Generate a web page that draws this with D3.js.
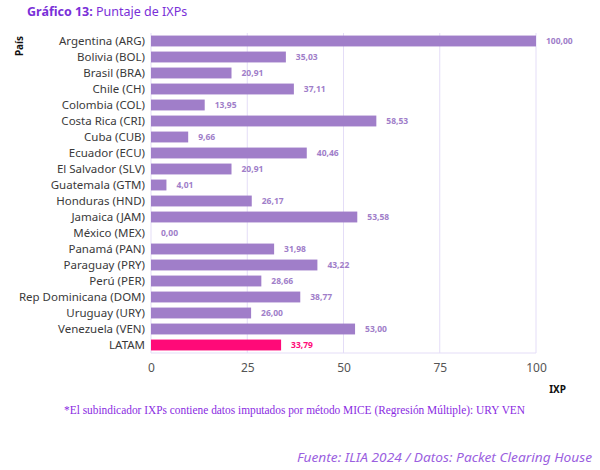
<!DOCTYPE html>
<html>
<head>
<meta charset="utf-8">
<script src="https://cdn.jsdelivr.net/npm/d3@7"></script>
<style>
  body { margin: 0; background: #fff; }
  svg { display: block; font-family: "Noto Sans", sans-serif; }
</style>
</head>
<body>
<div id="chart"></div>
<script>
// Chart data
const countries = [
  "Argentina (ARG)", "Bolivia (BOL)", "Brasil (BRA)", "Chile (CH)", "Colombia (COL)",
  "Costa Rica (CRI)", "Cuba (CUB)", "Ecuador (ECU)", "El Salvador (SLV)", "Guatemala (GTM)",
  "Honduras (HND)", "Jamaica (JAM)", "México (MEX)", "Panamá (PAN)", "Paraguay (PRY)",
  "Perú (PER)", "Rep Dominicana (DOM)", "Uruguay (URY)", "Venezuela (VEN)", "LATAM"
];
const scores = [
  100.00, 35.03, 20.91, 37.11, 13.95,
  58.53, 9.66, 40.46, 20.91, 4.01,
  26.17, 53.58, 0.00, 31.98, 43.22,
  28.66, 38.77, 26.00, 53.00, 33.79
];
const xTicks = [0, 25, 50, 75, 100];

const W = 600, H = 470;
const purple = "#a07ec9";
const pink = "#ff0a78";

const svg = d3.select("#chart").append("svg")
  .attr("width", W).attr("height", H);

const x = d3.scaleLinear().domain([0, 100]).range([151, 536]);
const y = d3.scaleBand().domain(countries).range([33, 353]).paddingInner(0.32).paddingOuter(0.16);

// Grid
svg.append("g").selectAll("line")
  .data(xTicks)
  .enter().append("line")
  .attr("x1", d => x(d)).attr("x2", d => x(d))
  .attr("y1", 33).attr("y2", 353)
  .attr("stroke", "#e4ddf7").attr("stroke-width", 1);
svg.append("line")
  .attr("x1", x(0)).attr("x2", x(100))
  .attr("y1", 353).attr("y2", 353)
  .attr("stroke", "#e4ddf7");

// Bars
svg.append("g").selectAll("rect")
  .data(countries)
  .enter().append("rect")
  .attr("x", x(0))
  .attr("y", d => y(d))
  .attr("height", y.bandwidth())
  .attr("width", (d, i) => x(scores[i]) - x(0))
  .attr("fill", d => d === "LATAM" ? pink : purple);

// Value labels
svg.append("g").selectAll("text")
  .data(countries)
  .enter().append("text")
  .attr("x", (d, i) => x(scores[i]) + 10)
  .attr("y", d => y(d) + y.bandwidth() / 2)
  .attr("dy", "0.35em")
  .attr("font-size", 8.5)
  .attr("font-weight", "bold")
  .attr("fill", d => d === "LATAM" ? pink : purple)
  .text((d, i) => scores[i].toFixed(2).replace(".", ","));

// Y axis labels
svg.append("g").selectAll("text")
  .data(countries)
  .enter().append("text")
  .attr("x", 145)
  .attr("y", d => y(d) + y.bandwidth() / 2)
  .attr("dy", "0.35em")
  .attr("text-anchor", "end")
  .attr("font-size", 11.5)
  .attr("fill", "#3a3a3a")
  .text(d => d);

// X axis
const xAxis = svg.append("g")
  .attr("transform", "translate(0,353)")
  .call(d3.axisBottom(x).tickValues(xTicks).tickSize(0).tickPadding(10));
xAxis.select(".domain").remove();
xAxis.selectAll("text").attr("font-size", 12).attr("fill", "#555")
  .attr("font-family", "Noto Sans, sans-serif");

// Axis titles
svg.append("text")
  .attr("x", 566).attr("y", 393)
  .attr("text-anchor", "end")
  .attr("font-size", 10).attr("font-weight", "bold").attr("fill", "#111")
  .text("IXP");

svg.append("text")
  .attr("transform", "translate(23,46) rotate(-90)")
  .attr("text-anchor", "middle")
  .attr("font-size", 10).attr("font-weight", "bold").attr("fill", "#111")
  .text("País");

// Title
const title = svg.append("text")
  .attr("x", 27).attr("y", 16)
  .attr("font-size", 12.5).attr("fill", "#7a2fd8");
title.append("tspan").attr("font-weight", "bold").text("Gráfico 13:");
title.append("tspan").text(" Puntaje de IXPs");

// Note
svg.append("text")
  .attr("x", 64).attr("y", 414)
  .attr("font-family", "Liberation Serif, serif")
  .attr("font-size", 12).attr("fill", "#8a2be2")
  .attr("textLength", 461).attr("lengthAdjust", "spacingAndGlyphs")
  .text("*El subindicador IXPs contiene datos imputados por método MICE (Regresión Múltiple): URY VEN");

// Source
svg.append("text")
  .attr("x", 297).attr("y", 462)
  .attr("font-size", 12.5).attr("font-style", "italic").attr("fill", "#9b5fe0")
  .attr("textLength", 295).attr("lengthAdjust", "spacingAndGlyphs")
  .text("Fuente: ILIA 2024 / Datos: Packet Clearing House");
</script>
</body>
</html>
